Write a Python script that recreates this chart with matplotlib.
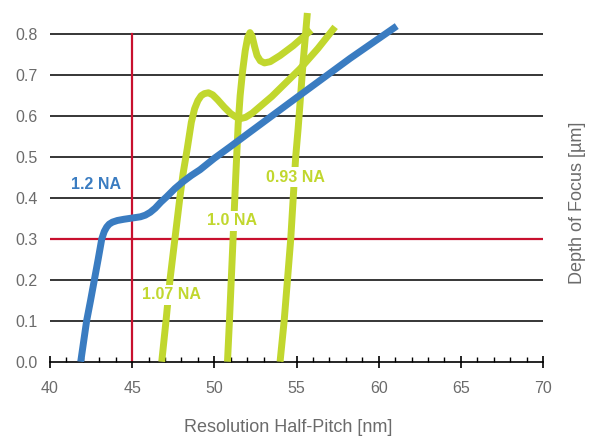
import matplotlib
matplotlib.use("Agg")
import matplotlib.pyplot as plt
from matplotlib.ticker import MultipleLocator

# ---- data ----
na12_x = [41.87, 42.05, 42.23, 42.47, 42.7, 42.93, 43.15, 43.3, 43.45, 43.6, 43.8, 44.1, 44.5, 45.0, 45.5,
          45.8, 46.1, 46.4, 46.75, 47.1, 47.6, 48.1, 48.6, 49.13, 50.0, 50.96, 52.0, 55.0, 58.26, 61.1]
na12_y = [0.0, 0.05, 0.1, 0.15, 0.2, 0.25, 0.3, 0.318, 0.329, 0.336, 0.341, 0.345, 0.348, 0.351, 0.354,
          0.358, 0.365, 0.375, 0.39, 0.403, 0.423, 0.44, 0.455, 0.469, 0.497, 0.525, 0.556, 0.645, 0.741, 0.82]

na107_x = [46.8, 47.06, 47.3, 47.6, 47.9, 48.1, 48.35, 48.6, 48.8, 49.0, 49.2, 49.4, 49.64, 49.9, 50.2,
           50.6, 51.0, 51.35, 51.6, 51.9, 52.3, 53.5, 55.2, 56.3, 57.35]
na107_y = [0.0, 0.1, 0.2, 0.3, 0.4, 0.46, 0.52, 0.585, 0.618, 0.638, 0.65, 0.655, 0.657, 0.652, 0.64,
           0.622, 0.606, 0.597, 0.594, 0.597, 0.607, 0.648, 0.715, 0.765, 0.818]

na10_x = [50.8, 50.92, 51.03, 51.14, 51.3, 51.45, 51.57, 51.72, 51.88, 52.03, 52.17, 52.3, 52.45, 52.6,
          52.8, 53.05, 53.4, 54.0, 54.8, 55.6, 55.9]
na10_y = [0.0, 0.1, 0.2, 0.3, 0.45, 0.58, 0.65, 0.71, 0.76, 0.792, 0.804, 0.795, 0.77, 0.748,
          0.735, 0.73, 0.733, 0.748, 0.772, 0.8, 0.81]

na093_x = [54.0, 54.25, 54.45, 54.65, 54.8, 54.95, 55.1, 55.25, 55.4, 55.55, 55.66]
na093_y = [0.0, 0.1, 0.2, 0.3, 0.4, 0.5, 0.57, 0.65, 0.73, 0.8, 0.852]

grid_y = [0.1, 0.2, 0.4, 0.5, 0.6, 0.7, 0.8]
ref_y = 0.3
ref_x = 45
yticks = [0.0, 0.1, 0.2, 0.3, 0.4, 0.5, 0.6, 0.7, 0.8]
xticks = [40, 45, 50, 55, 60, 65, 70]

labels = [("1.2 NA", 42.77, 0.434, "blue"), ("1.07 NA", 47.36, 0.163, "green"),
          ("1.0 NA", 51.08, 0.344, "green"), ("0.93 NA", 54.94, 0.451, "green")]

BLUE = "#3a7cc1"
GREEN = "#c1d72e"
RED = "#c8102e"
GRAY = "#6b6b6b"

plt.rcParams['font.family'] = ['Liberation Sans', 'DejaVu Sans']

fig = plt.figure(figsize=(5.9, 4.41), dpi=100)
ax = fig.add_axes([50/590, 1 - 361.7/441, 493/590, (361.7 - 9.7)/441])
ax.set_xlim(40, 70)
ax.set_ylim(0, 0.86)

for s in ["top", "right", "left"]:
    ax.spines[s].set_visible(False)
ax.spines["bottom"].set_color("black")
ax.spines["bottom"].set_linewidth(1.2)

for gy in grid_y:
    ax.plot([40, 70], [gy, gy], color="black", lw=1.1, zorder=1)
ax.plot([40, 70], [ref_y, ref_y], color=RED, lw=1.6, zorder=2)
ax.plot([ref_x, ref_x], [0, 0.8], color=RED, lw=1.6, zorder=2)

lw = 5.0
ax.plot(na12_x, na12_y, color=BLUE, lw=lw, solid_capstyle="butt", solid_joinstyle="round", zorder=4)
for xs, ys in [(na107_x, na107_y), (na10_x, na10_y), (na093_x, na093_y)]:
    ax.plot(xs, ys, color=GREEN, lw=lw, solid_capstyle="butt", solid_joinstyle="round", zorder=3)

for txt, lx, ly, c in labels:
    ax.text(lx, ly, txt, color=BLUE if c == "blue" else GREEN, fontsize=11.5, fontweight="bold",
            ha="center", va="center", zorder=6,
            bbox=dict(facecolor="white", edgecolor="none", pad=2.0))

ax.set_xticks(xticks)
ax.set_yticks(yticks)
ax.set_yticklabels([f"{v:.1f}" for v in yticks])
ax.xaxis.set_minor_locator(MultipleLocator(1))
ax.tick_params(axis="x", which="major", direction="inout", length=8.3, width=1.2, color="black",
               labelsize=11.5, labelcolor=GRAY, pad=10)
ax.tick_params(axis="x", which="minor", direction="in", length=3.6, width=1.0, color="black")
ax.tick_params(axis="y", which="both", length=0, labelsize=11.5, labelcolor=GRAY, pad=9)

fig.text(288/590, 1 - 427/441, "Resolution Half-Pitch [nm]", ha="center", va="center",
         fontsize=13, color=GRAY)
fig.text(578/590, 1 - 203/441, "Depth of Focus [µm]", ha="center", va="center", rotation=90,
         fontsize=13, color=GRAY)

fig.savefig("out.png", dpi=100)
